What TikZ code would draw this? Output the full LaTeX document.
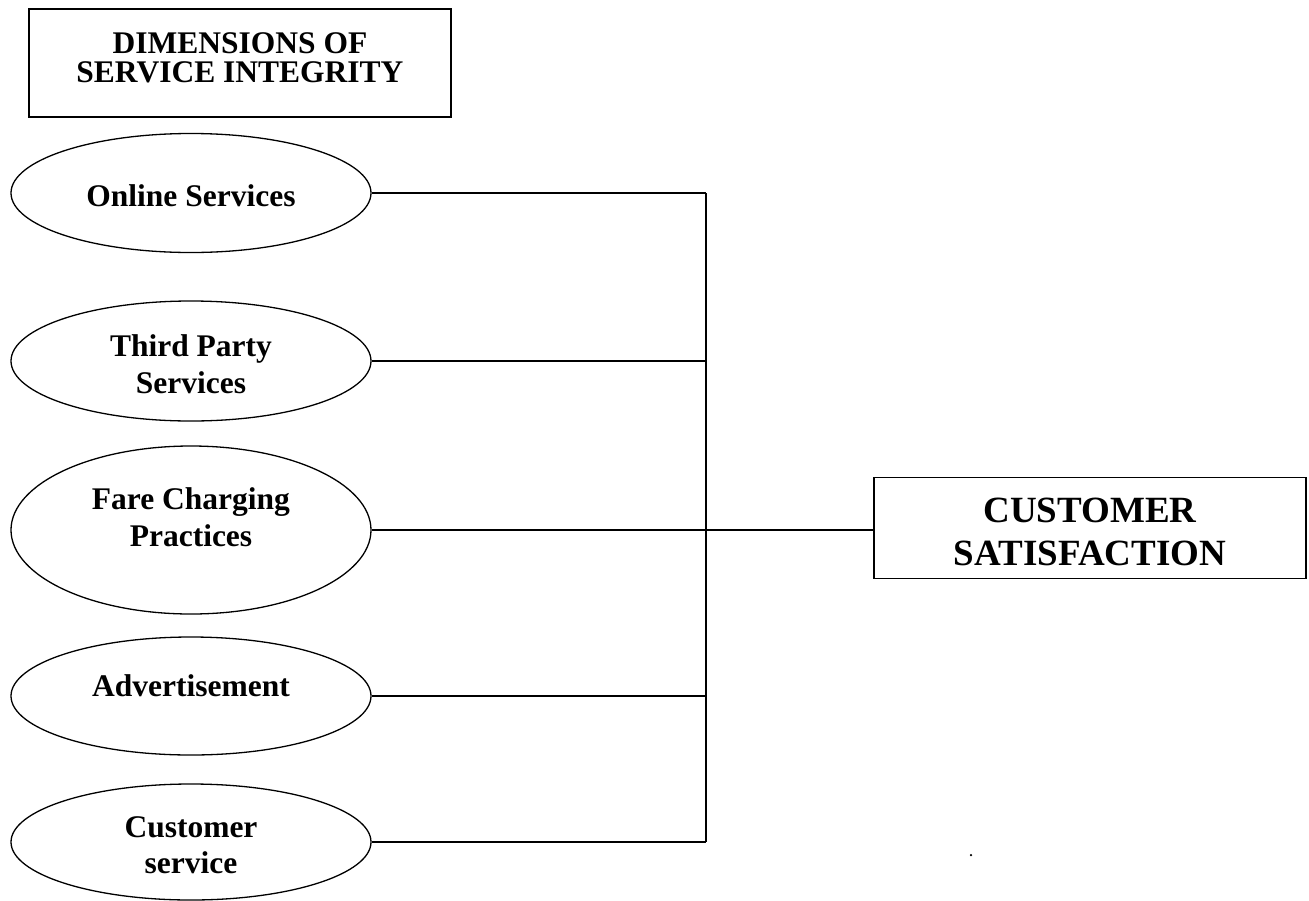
\documentclass[tikz,border=0pt]{standalone}
\usepackage{fontspec}
\setmainfont{Liberation Serif}
\usetikzlibrary{shapes.geometric}
\tikzset{
  lbl/.style={font=\fontsize{31.5}{36.5}\selectfont\bfseries, align=center},
  oval/.style={ellipse, draw, line width=1.3pt, inner sep=0pt, minimum width=360pt, lbl},
  conn/.style={line width=1.3pt},
  rectbox/.style={draw, line width=1.3pt, inner sep=0pt, align=center}
}
\begin{document}
\begin{tikzpicture}[x=1pt,y=-1pt]
\useasboundingbox (0,0) rectangle (1309,900);
% title box
\node[rectbox, minimum width=422pt, minimum height=108pt, text depth=10pt,
      font=\fontsize{31.5}{29}\selectfont\bfseries] (dim) at (240,63) {DIMENSIONS OF\\SERVICE INTEGRITY};
% ellipses
\node[oval, minimum height=119pt, text height=27.5pt] (os) at (191,193) {Online Services};
\node[oval, minimum height=120pt, text height=65pt] (tp) at (191,361) {Third Party\\Services};
\node[oval, minimum height=168pt, text depth=26pt] (fc) at (191,530) {Fare Charging\\Practices};
\node[oval, minimum height=118pt, text depth=21.5pt] (ad) at (191,696) {Advertisement};
\node[oval, minimum height=116pt, text height=64pt] (cu) at (191,842) {Customer\\service};
% outcome box
\node[rectbox, minimum width=432pt, minimum height=101pt, text height=75.5pt,
      font=\fontsize{37}{43}\selectfont\bfseries] (cs) at (1090,528) {CUSTOMER\\SATISFACTION};
% spine
\coordinate (sTop) at (706,193);
\coordinate (sBot) at (706,842);
\draw[conn] (sTop) -- (sBot);
\draw[conn] (os.east) -- (os.east -| sTop);
\draw[conn] (tp.east) -- (tp.east -| sTop);
\draw[conn] (fc.east) -- (fc.east -| cs.west);
\draw[conn] (ad.east) -- (ad.east -| sTop);
\draw[conn] (cu.east) -- (cu.east -| sTop);
% stray dot
\node[circle, fill, inner sep=0pt, minimum size=2.5pt] (dot) at (971,855) {};
\end{tikzpicture}
\end{document}
